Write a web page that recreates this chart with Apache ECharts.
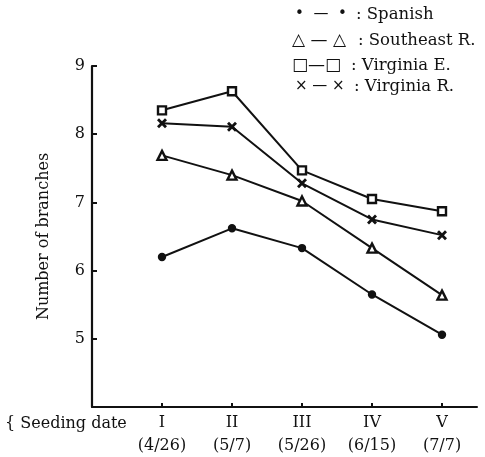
<!DOCTYPE html>
<html>
<head>
<meta charset="utf-8">
<script src="https://cdn.jsdelivr.net/npm/echarts@6/dist/echarts.min.js"></script>
<style>
html,body{margin:0;padding:0;background:#fff;}
#c{width:485px;height:457px;}
</style>
</head>
<body>
<div id="c"></div>
<script>
var positions = [1, 2, 3, 4, 5];
var romanLabels = ['I', 'II', 'III', 'IV', 'V'];
var dateLabels = ['(4/26)', '(5/7)', '(5/26)', '(6/15)', '(7/7)'];
var spanish = [6.20, 6.62, 6.33, 5.65, 5.06];
var southeast = [7.69, 7.40, 7.02, 6.33, 5.64];
var virginiaE = [8.35, 8.63, 7.47, 7.05, 6.87];
var virginiaR = [8.16, 8.11, 7.28, 6.75, 6.52];
var yTicks = [5, 6, 7, 8, 9];
var legendSymbols = ['\u2022  \u2014  \u2022', '\u25B3 \u2014 \u25B3', '\u25A1\u2014\u25A1', '\u00D7 \u2014 \u00D7'];
var legendNames = [': Spanish', ': Southeast R.', ': Virginia E.', ': Virginia R.'];

function pairs(vals){ return positions.map(function(p,i){ return [p, vals[i]]; }); }

var FONT = 'DejaVu Serif';
var INK = '#111';
var crossPath = 'path://M0,2L2,0L5,3L8,0L10,2L7,5L10,8L8,10L5,7L2,10L0,8L3,5Z';

var chart = echarts.init(document.getElementById('c'));

var legendY = [16, 42, 67, 88];
var legendSymX = [295, 292, 292, 295];
var legendSymFont = [15, 17, 17, 15];
var legendTxtX = [356, 358, 351, 354];
var graphics = [];
legendY.forEach(function(y, i){
  graphics.push({type:'text', left:legendSymX[i], top:y-legendSymFont[i]*0.6, style:{text:legendSymbols[i], font:legendSymFont[i] + 'px "DejaVu Sans"', fill:INK}});
  graphics.push({type:'text', left:legendTxtX[i], top:y-10, style:{text:legendNames[i], font:'16.5px "' + FONT + '"', fill:INK}});
});
graphics.push({type:'text', left:5, top:416, style:{text:'{ Seeding date', font:'16px "' + FONT + '"', fill:INK}});

function line(name, vals, symbol, size, fillColor){
  return {
    name:name, type:'line', data:pairs(vals), symbol:symbol, symbolSize:size,
    lineStyle:{color:INK, width:2},
    itemStyle:{color:fillColor, borderColor:INK, borderWidth: symbol === crossPath ? 0 : 2.4},
    z: 3
  };
}

chart.setOption({
  backgroundColor:'#fff',
  animation:false,
  grid:{left:92, right:8, top:66, bottom:48},
  xAxis:{
    type:'value', min:0, max:5.5, interval:1,
    axisLine:{show:true, lineStyle:{color:INK, width:2}},
    splitLine:{show:false},
    axisTick:{show:true, inside:true, length:4, lineStyle:{color:INK, width:2}, customValues:positions},
    axisLabel:{
      customValues:positions,
      fontFamily:FONT, fontSize:16, color:INK, lineHeight:23, margin:4,
      formatter:function(v){ var i = positions.indexOf(v); return i < 0 ? '' : romanLabels[i] + '\n' + dateLabels[i]; }
    }
  },
  yAxis:{
    type:'value', min:4, max:9, interval:1,
    name:'Number of branches', nameLocation:'middle', nameGap:40,
    nameTextStyle:{fontFamily:FONT, fontSize:16, color:INK},
    axisLine:{show:true, lineStyle:{color:INK, width:2.2}},
    splitLine:{show:false},
    axisTick:{show:true, inside:true, length:5, lineStyle:{color:INK, width:2}, customValues:yTicks},
    axisLabel:{customValues:yTicks, fontFamily:FONT, fontSize:16, color:INK, margin:7}
  },
  graphic:graphics,
  series:[
    line('Spanish', spanish, 'circle', 6, INK),
    line('Southeast R.', southeast, 'triangle', 9, '#fff'),
    line('Virginia E.', virginiaE, 'rect', 8, '#fff'),
    line('Virginia R.', virginiaR, crossPath, 10, INK)
  ]
});
</script>
</body>
</html>
